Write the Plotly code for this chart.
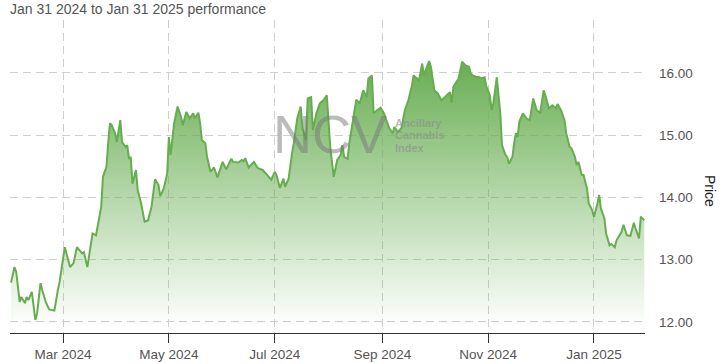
import plotly.graph_objects as go

dates = [
    "2024-01-31", "2024-02-02", "2024-02-03", "2024-02-05", "2024-02-06", "2024-02-08", "2024-02-09",
    "2024-02-10", "2024-02-12", "2024-02-14", "2024-02-15", "2024-02-17", "2024-02-18", "2024-02-20",
    "2024-02-22", "2024-02-25", "2024-02-27", "2024-02-28", "2024-03-02", "2024-03-05", "2024-03-07",
    "2024-03-09", "2024-03-12", "2024-03-13", "2024-03-15", "2024-03-17", "2024-03-18", "2024-03-20",
    "2024-03-21", "2024-03-23", "2024-03-24", "2024-03-26", "2024-03-27", "2024-03-28", "2024-03-29",
    "2024-03-31", "2024-04-01", "2024-04-03", "2024-04-04", "2024-04-06", "2024-04-07", "2024-04-08",
    "2024-04-09", "2024-04-10", "2024-04-12", "2024-04-13", "2024-04-15", "2024-04-17", "2024-04-19",
    "2024-04-21", "2024-04-23", "2024-04-25", "2024-04-26", "2024-04-28", "2024-04-30", "2024-05-01",
    "2024-05-02", "2024-05-04", "2024-05-06", "2024-05-08", "2024-05-09", "2024-05-11", "2024-05-13",
    "2024-05-15", "2024-05-16", "2024-05-18", "2024-05-19", "2024-05-20", "2024-05-22", "2024-05-23",
    "2024-05-25", "2024-05-27", "2024-05-29", "2024-06-01", "2024-06-03", "2024-06-06", "2024-06-07",
    "2024-06-10", "2024-06-12", "2024-06-13", "2024-06-14", "2024-06-16", "2024-06-19", "2024-06-21",
    "2024-06-22", "2024-06-24", "2024-06-26", "2024-06-29", "2024-07-01", "2024-07-02", "2024-07-04",
    "2024-07-06", "2024-07-07", "2024-07-09", "2024-07-11", "2024-07-12", "2024-07-14", "2024-07-16",
    "2024-07-17", "2024-07-19", "2024-07-20", "2024-07-22", "2024-07-23", "2024-07-25", "2024-07-27",
    "2024-07-29", "2024-07-31", "2024-08-02", "2024-08-04", "2024-08-06", "2024-08-08", "2024-08-09",
    "2024-08-10", "2024-08-12", "2024-08-13", "2024-08-15", "2024-08-17", "2024-08-19", "2024-08-21",
    "2024-08-23", "2024-08-24", "2024-08-26", "2024-08-27", "2024-08-29", "2024-08-31", "2024-09-02",
    "2024-09-04", "2024-09-05", "2024-09-07", "2024-09-08", "2024-09-10", "2024-09-12", "2024-09-14",
    "2024-09-16", "2024-09-18", "2024-09-19", "2024-09-21", "2024-09-22", "2024-09-24", "2024-09-25",
    "2024-09-27", "2024-09-28", "2024-09-29", "2024-10-01", "2024-10-03", "2024-10-05", "2024-10-07",
    "2024-10-08", "2024-10-10", "2024-10-11", "2024-10-12", "2024-10-15", "2024-10-17", "2024-10-19",
    "2024-10-21", "2024-10-22", "2024-10-23", "2024-10-25", "2024-10-27", "2024-10-28", "2024-10-30",
    "2024-10-31", "2024-11-02", "2024-11-03", "2024-11-04", "2024-11-05", "2024-11-06", "2024-11-08",
    "2024-11-09", "2024-11-11", "2024-11-12", "2024-11-13", "2024-11-15", "2024-11-16", "2024-11-17",
    "2024-11-18", "2024-11-19", "2024-11-21", "2024-11-23", "2024-11-25", "2024-11-27", "2024-11-29",
    "2024-12-01", "2024-12-03", "2024-12-04", "2024-12-06", "2024-12-08", "2024-12-10", "2024-12-11",
    "2024-12-13", "2024-12-15", "2024-12-16", "2024-12-18", "2024-12-19", "2024-12-21", "2024-12-22",
    "2024-12-23", "2024-12-25", "2024-12-26", "2024-12-28", "2024-12-29", "2024-12-31", "2025-01-01",
    "2025-01-03", "2025-01-04", "2025-01-05", "2025-01-07", "2025-01-08", "2025-01-10", "2025-01-11",
    "2025-01-13", "2025-01-14", "2025-01-16", "2025-01-17", "2025-01-18", "2025-01-20", "2025-01-22",
    "2025-01-24", "2025-01-25", "2025-01-27", "2025-01-28", "2025-01-30",
]

prices = [
    12.63, 12.88, 12.80, 12.32, 12.40, 12.30, 12.40,
    12.35, 12.48, 12.03, 12.13, 12.62, 12.51, 12.32,
    12.20, 12.18, 12.51, 12.64, 13.20, 12.88, 12.94,
    13.20, 13.10, 13.12, 12.88, 13.26, 13.42, 13.39,
    13.55, 13.85, 14.33, 14.49, 14.87, 15.19, 15.16,
    15.03, 14.89, 15.24, 14.89, 14.81, 14.84, 14.62,
    14.65, 14.22, 14.44, 14.12, 13.90, 13.61, 13.63,
    13.85, 14.29, 14.20, 14.02, 14.14, 14.38, 14.97,
    14.68, 15.19, 15.46, 15.29, 15.16, 15.37, 15.27,
    15.35, 15.27, 15.36, 15.19, 14.92, 14.87, 14.65,
    14.41, 14.48, 14.32, 14.57, 14.45, 14.62, 14.57,
    14.56, 14.60, 14.58, 14.63, 14.48, 14.57, 14.48,
    14.46, 14.44, 14.38, 14.28, 14.41, 14.36, 14.15,
    14.30, 14.17, 14.30, 14.71, 14.87, 15.27, 15.46,
    15.11, 14.92, 15.59, 15.61, 15.08, 15.35, 15.51,
    15.56, 15.64, 14.81, 14.33, 14.60, 14.68, 14.84,
    14.65, 14.62, 14.87, 15.19, 15.57, 15.51, 15.72,
    15.61, 15.91, 15.96, 15.35, 15.40, 15.44, 15.35,
    15.19, 15.11, 15.03, 15.13, 15.05, 15.11, 15.40,
    15.56, 15.78, 15.96, 15.91, 15.86, 16.15, 15.96,
    16.12, 16.19, 16.10, 15.72, 15.67, 15.56, 15.61,
    15.64, 15.69, 15.52, 15.78, 15.91, 16.18, 16.12,
    16.10, 15.99, 15.96, 15.94, 15.93, 15.91, 15.93,
    15.78, 15.64, 15.40, 15.51, 15.72, 15.93, 15.35,
    14.84, 14.68, 14.65, 14.54, 14.65, 14.87, 15.03,
    14.97, 15.22, 15.35, 15.27, 15.24, 15.59, 15.40,
    15.36, 15.72, 15.64, 15.43, 15.48, 15.43, 15.50,
    15.40, 15.24, 15.03, 14.81, 14.79, 14.65, 14.52,
    14.57, 14.36, 14.36, 14.14, 13.90, 13.79, 13.69,
    13.90, 14.04, 13.82, 13.66, 13.42, 13.23, 13.25,
    13.20, 13.31, 13.39, 13.45, 13.56, 13.39, 13.38,
    13.59, 13.50, 13.34, 13.69, 13.63,
]

title_text = "Jan 31 2024 to Jan 31 2025 performance"
y_title = "Price"
watermark_big = "NCV"
watermark_small = ["Ancillary", "Cannabis", "Index"]

FONT = "Arial, Liberation Sans, sans-serif"
LINE = "#66ad4f"

fig = go.Figure()
fig.add_trace(go.Scatter(
    x=dates, y=prices, mode="lines",
    line=dict(color=LINE, width=2),
    fill="tozeroy",
    fillgradient=dict(
        type="vertical",
        start=11.9, stop=16.2,
        colorscale=[[0, "rgba(104,174,82,0.0)"], [1, "rgba(104,174,82,1.0)"]],
    ),
    hoverinfo="skip",
    showlegend=False,
))

grid = dict(showgrid=True, gridcolor="#cfcfcf", gridwidth=1, griddash="8px,5px")

fig.update_xaxes(
    range=["2024-01-30 10:00", "2025-01-30 10:00"],
    type="date",
    tick0="2024-03-01", dtick="M2", tickformat="%b %Y",
    ticks="outside", ticklen=9, tickcolor="#333", tickwidth=1,
    showline=True, linecolor="#333", linewidth=1,
    tickfont=dict(family=FONT, size=13.5, color="#555"),
    zeroline=False, automargin=False,
    **grid,
)
fig.update_yaxes(
    side="right",
    range=[11.82, 16.85],
    tick0=12, dtick=1, tickformat=".2f",
    ticks="", ticklabelstandoff=13,
    tickfont=dict(family=FONT, size=13.5, color="#555"),
    showline=False, zeroline=False, automargin=False,
    **grid,
)

annotations = [
    dict(text=y_title, x=1.1024, y=0.4537, xref="paper", yref="paper",
         textangle=90, showarrow=False, xanchor="center", yanchor="middle",
         font=dict(family=FONT, size=14, color="#222")),
    dict(text=watermark_big, x=0.504, y=0.636, xref="paper", yref="paper",
         showarrow=False, xanchor="center", yanchor="middle",
         font=dict(family=FONT, size=54, color="rgba(120,120,120,0.5)")),
]
small_y = [0.672, 0.633, 0.592]
for word, yy in zip(watermark_small, small_y):
    annotations.append(dict(
        text="<b>" + word + "</b>", x=0.6027, y=yy, xref="paper", yref="paper",
        showarrow=False, xanchor="left", yanchor="middle",
        font=dict(family=FONT, size=11, color="rgba(140,140,140,0.6)")))

fig.update_layout(
    width=722, height=364,
    margin=dict(l=10, r=77, t=20, b=31, autoexpand=False),
    paper_bgcolor="white", plot_bgcolor="white",
    title=dict(text=title_text, x=10 / 722, xref="container", xanchor="left",
               y=1 - 9.5 / 364, yref="container", yanchor="middle",
               font=dict(family=FONT, size=14, color="#555")),
    annotations=annotations,
)

fig.write_html(
    "out.html",
    config={"displayModeBar": False},
    post_script="document.body.style.margin='0';document.body.style.overflow='hidden';",
)
